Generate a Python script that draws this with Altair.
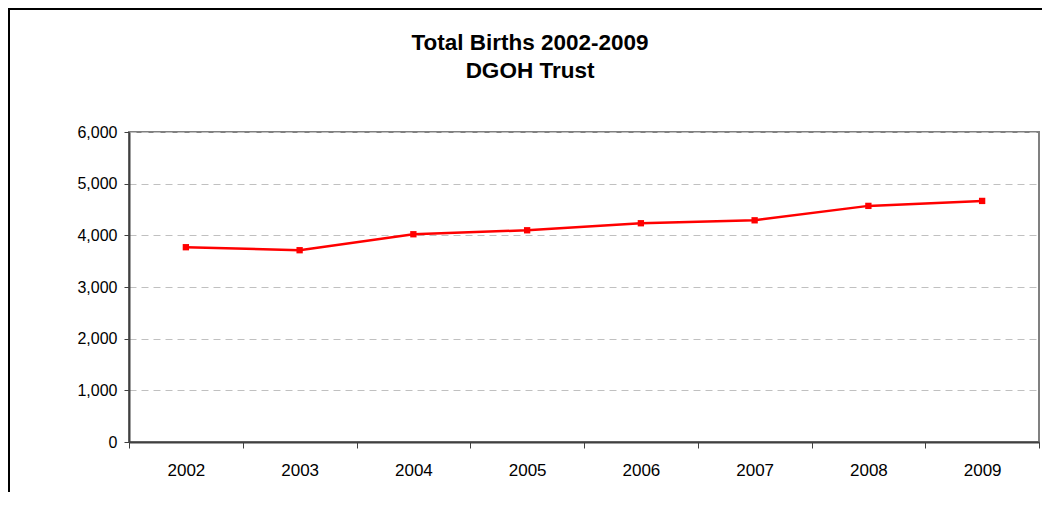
# %% Imports

import altair as alt
import pandas as pd

# %% Data

years = [2002, 2003, 2004, 2005, 2006, 2007, 2008, 2009]
births = [3770, 3712, 4021, 4098, 4234, 4291, 4570, 4666]
y_ticks = [0, 1000, 2000, 3000, 4000, 5000, 6000]
year_edges = [2001.5, 2002.5, 2003.5, 2004.5, 2005.5, 2006.5, 2007.5, 2008.5, 2009.5]
title_lines = ["Total Births 2002-2009", "DGOH Trust"]

df = pd.DataFrame({"year": years, "births": births})

# %% Chart

font = "Liberation Sans"
x_scale = alt.Scale(domain=[year_edges[0], year_edges[-1]], nice=False, zero=False)

y_enc = alt.Y(
    "births:Q",
    scale=alt.Scale(domain=[y_ticks[0], y_ticks[-1]], nice=False),
    axis=alt.Axis(
        values=y_ticks,
        format=",d",
        title=None,
        grid=True,
        gridColor="#c0c0c0",
        gridDash=[7, 5],
        gridWidth=1,
        domainColor="#404040",
        domainWidth=2,
        tickColor="#404040",
        tickSize=5,
        labelFontSize=16,
        labelPadding=7,
    ),
)

# outer chart frame: only its top and left edges fall inside the page
one = pd.DataFrame({"f": [0]})
frame_top = (
    alt.Chart(one)
    .mark_rule(color="#000000", strokeWidth=2)
    .encode(x=alt.value(-121), x2=alt.value(1200), y=alt.value(-123))
)
frame_left = (
    alt.Chart(one)
    .mark_rule(color="#000000", strokeWidth=2)
    .encode(x=alt.value(-120), y=alt.value(-124), y2=alt.value(700))
)

line = (
    alt.Chart(df)
    .mark_line(color="#ff0000", strokeWidth=2.5)
    .encode(
        x=alt.X(
            "year:Q",
            scale=x_scale,
            axis=alt.Axis(
                values=year_edges,
                labels=False,
                ticks=True,
                tickSize=6,
                tickColor="#404040",
                domain=True,
                domainColor="#404040",
                domainWidth=2,
                grid=False,
                title=None,
                orient="bottom",
            ),
        ),
        y=y_enc,
    )
)

points = (
    alt.Chart(df)
    .mark_square(color="#ff0000", size=40, opacity=1)
    .encode(
        x=alt.X(
            "year:Q",
            scale=x_scale,
            axis=alt.Axis(
                values=years,
                format="d",
                ticks=False,
                tickSize=0,
                domain=False,
                grid=False,
                labelPadding=20,
                labelFontSize=17,
                title=None,
                orient="bottom",
            ),
        ),
        y=y_enc,
    )
)

chart = (
    alt.layer(frame_top, frame_left, line, points)
    .resolve_axis(x="independent")
    .properties(
        width=910,
        height=310,
        autosize=alt.AutoSizeParams(type="none"),
        padding={"left": 121, "top": 124, "right": 3, "bottom": 50},
        title=alt.TitleParams(
            title_lines,
            font=font,
            fontSize=22.5,
            fontWeight="bold",
            color="#000000",
            anchor="middle",
            dx=-54,
            offset=-75.5,
            lineHeight=28,
        ),
    )
    .configure_view(stroke="#808080", strokeWidth=2)
    .configure_axis(labelFont=font, labelColor="#000000")
)

chart.save("out.html", embed_options={"renderer": "svg", "actions": False})
